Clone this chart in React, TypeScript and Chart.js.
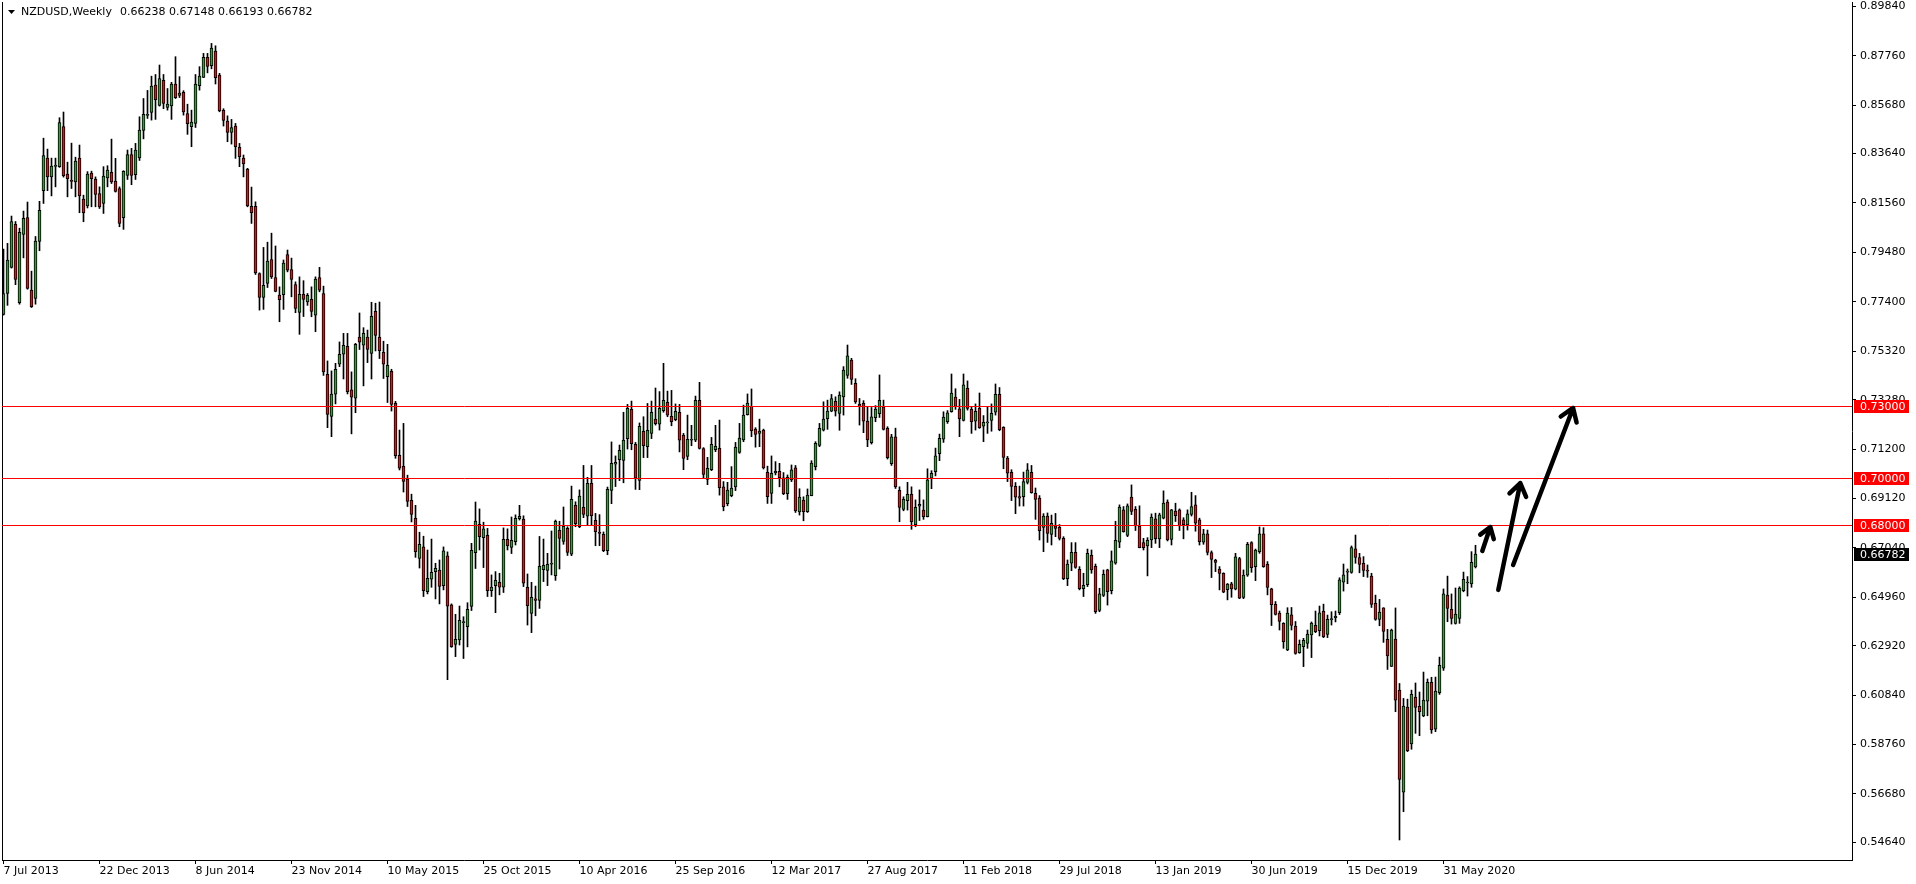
import React, { useEffect, useRef } from 'react';
import { Chart, registerables } from 'chart.js';

Chart.register(...registerables);

// ---- Weekly NZDUSD candles (bar index 0 = week of 7 Jul 2013) ----
const opens = [
  0.7687,0.7775,0.7885,0.8066,0.7736,0.8024,0.8095,0.7789,0.7754,0.7994,
  0.8208,0.8345,0.8266,0.8310,0.8309,0.8478,0.8278,0.8250,0.8245,0.8345,
  0.8172,0.8144,0.8282,0.8257,0.8196,0.8154,0.8262,0.8285,0.8248,0.8217,
  0.8094,0.8272,0.8360,0.8275,0.8346,0.8462,0.8525,0.8537,0.8652,0.8567,
  0.8673,0.8558,0.8565,0.8657,0.8609,0.8622,0.8533,0.8477,0.8491,0.8650,
  0.8685,0.8769,0.8734,0.8796,0.8695,0.8546,0.8501,0.8453,0.8480,0.8390,
  0.8345,0.8299,0.8142,0.8142,0.7859,0.7758,0.7817,0.7918,0.7842,0.7768,
  0.7770,0.7939,0.7876,0.7813,0.7695,0.7771,0.7740,0.7750,0.7684,0.7842,
  0.7775,0.7435,0.7257,0.7351,0.7477,0.7520,0.7553,0.7369,0.7334,0.7591,
  0.7557,0.7591,0.7523,0.7700,0.7591,0.7527,0.7425,0.7447,0.7313,0.7094,
  0.7047,0.6994,0.6904,0.6828,0.6659,0.6708,0.6520,0.6572,0.6604,0.6610,
  0.6545,0.6670,0.6464,0.6297,0.6316,0.6389,0.6372,0.6457,0.6684,0.6803,
  0.6747,0.6757,0.6524,0.6545,0.6559,0.6538,0.6740,0.6706,0.6730,0.6827,
  0.6825,0.6538,0.6428,0.6489,0.6483,0.6612,0.6609,0.6635,0.6587,0.6778,
  0.6731,0.6786,0.6677,0.6883,0.6793,0.6875,0.6837,0.6976,0.6820,0.6768,
  0.6761,0.6692,0.6946,0.7056,0.7075,0.7072,0.7164,0.7287,0.7140,0.6988,
  0.7195,0.7130,0.7186,0.7246,0.7225,0.7282,0.7317,0.7258,0.7244,0.7275,
  0.7178,0.7089,0.7157,0.7157,0.7325,0.7122,0.6992,0.7033,0.7117,0.7123,
  0.6961,0.6890,0.6924,0.6961,0.7106,0.7158,0.7265,0.7300,0.7204,0.7186,
  0.7200,0.7022,0.6933,0.7021,0.7026,0.6999,0.6932,0.6990,0.7041,0.6855,
  0.6905,0.6856,0.6924,0.7046,0.7135,0.7200,0.7248,0.7280,0.7321,0.7270,
  0.7340,0.7430,0.7495,0.7397,0.7308,0.7312,0.7238,0.7147,0.7252,0.7269,
  0.7298,0.7207,0.7058,0.7171,0.6946,0.6866,0.6903,0.6929,0.6802,0.6880,
  0.6863,0.6835,0.6997,0.7025,0.7101,0.7162,0.7235,0.7277,0.7339,0.7289,
  0.7241,0.7376,0.7287,0.7237,0.7291,0.7216,0.7230,0.7241,0.7275,0.7350,
  0.7211,0.7082,0.7022,0.6963,0.6920,0.6920,0.6979,0.7022,0.6934,0.6914,
  0.6790,0.6838,0.6761,0.6797,0.6790,0.6744,0.6574,0.6639,0.6685,0.6614,
  0.6532,0.6549,0.6673,0.6626,0.6441,0.6504,0.6611,0.6524,0.6639,0.6728,
  0.6864,0.6756,0.6918,0.6866,0.6796,0.6726,0.6712,0.6737,0.6826,0.6742,
  0.6829,0.6897,0.6740,0.6859,0.6864,0.6822,0.6801,0.6845,0.6885,0.6822,
  0.6728,0.6763,0.6684,0.6653,0.6615,0.6597,0.6528,0.6552,0.6530,0.6659,
  0.6495,0.6589,0.6726,0.6625,0.6688,0.6763,0.6635,0.6531,0.6466,0.6429,
  0.6386,0.6274,0.6422,0.6375,0.6263,0.6288,0.6302,0.6337,0.6378,0.6355,
  0.6437,0.6340,0.6402,0.6410,0.6431,0.6559,0.6602,0.6601,0.6700,0.6663,
  0.6639,0.6609,0.6585,0.6470,0.6403,0.6451,0.6319,0.6205,0.6320,0.6105,
  0.5675,0.6034,0.5878,0.6076,0.6037,0.5996,0.6058,0.6138,0.5941,0.6094,
  0.6197,0.6505,0.6445,0.6386,0.6407,0.6524,0.6556,0.6552,0.66238,
];

const highs = [
  0.7962,0.7986,0.8101,0.8078,0.8050,0.8122,0.8160,0.7869,0.8015,0.8163,
  0.8429,0.8383,0.8345,0.8345,0.8515,0.8539,0.8328,0.8408,0.8349,0.8400,
  0.8189,0.8288,0.8290,0.8266,0.8224,0.8309,0.8313,0.8425,0.8344,0.8224,
  0.8292,0.8379,0.8386,0.8407,0.8519,0.8596,0.8630,0.8690,0.8697,0.8737,
  0.8697,0.8638,0.8664,0.8772,0.8688,0.8629,0.8572,0.8547,0.8697,0.8730,
  0.8786,0.8786,0.8828,0.8818,0.8702,0.8553,0.8523,0.8508,0.8491,0.8407,
  0.8358,0.8302,0.8223,0.8161,0.7862,0.7969,0.7991,0.8029,0.7975,0.7803,
  0.7916,0.7958,0.7924,0.7824,0.7845,0.7829,0.7775,0.7803,0.7845,0.7885,
  0.7806,0.7491,0.7449,0.7481,0.7571,0.7607,0.7607,0.7445,0.7565,0.7693,
  0.7631,0.7621,0.7738,0.7734,0.7739,0.7574,0.7561,0.7456,0.7321,0.7200,
  0.7228,0.7010,0.6930,0.6883,0.6770,0.6753,0.6695,0.6741,0.6639,0.6653,
  0.6708,0.6687,0.6468,0.6424,0.6459,0.6414,0.6473,0.6723,0.6897,0.6868,
  0.6812,0.6786,0.6590,0.6604,0.6597,0.6788,0.6784,0.6834,0.6843,0.6883,
  0.6839,0.6594,0.6559,0.6543,0.6752,0.6741,0.6681,0.6775,0.6821,0.6816,
  0.6876,0.6793,0.6964,0.6898,0.6948,0.7051,0.7001,0.7051,0.6849,0.6844,
  0.6771,0.6960,0.7150,0.7091,0.7137,0.7275,0.7308,0.7322,0.7148,0.7230,
  0.7256,0.7312,0.7322,0.7377,0.7362,0.7481,0.7364,0.7367,0.7310,0.7308,
  0.7186,0.7263,0.7220,0.7343,0.7401,0.7126,0.7085,0.7169,0.7220,0.7242,
  0.6983,0.6980,0.7046,0.7148,0.7228,0.7305,0.7352,0.7373,0.7210,0.7246,
  0.7204,0.7048,0.7091,0.7067,0.7060,0.7021,0.7011,0.7053,0.7051,0.6953,
  0.6919,0.6952,0.7071,0.7151,0.7228,0.7319,0.7326,0.7350,0.7340,0.7361,
  0.7467,0.7558,0.7502,0.7416,0.7333,0.7324,0.7298,0.7295,0.7303,0.7432,
  0.7326,0.7214,0.7182,0.7208,0.6961,0.6919,0.6980,0.6961,0.6906,0.6948,
  0.6906,0.7037,0.7029,0.7124,0.7183,0.7277,0.7282,0.7436,0.7374,0.7329,
  0.7436,0.7407,0.7298,0.7310,0.7356,0.7261,0.7300,0.7310,0.7394,0.7379,
  0.7214,0.7089,0.7033,0.6979,0.6964,0.7023,0.7059,0.7051,0.6956,0.6924,
  0.6848,0.6851,0.6842,0.6849,0.6802,0.6751,0.6653,0.6726,0.6726,0.6625,
  0.6597,0.6699,0.6695,0.6636,0.6534,0.6611,0.6614,0.6691,0.6816,0.6885,
  0.6878,0.6889,0.6969,0.6878,0.6881,0.6744,0.6747,0.6847,0.6850,0.6850,
  0.6944,0.6906,0.6866,0.6892,0.6868,0.6831,0.6864,0.6938,0.6924,0.6829,
  0.6782,0.6779,0.6691,0.6656,0.6625,0.6599,0.6554,0.6559,0.6681,0.6664,
  0.6611,0.6727,0.6730,0.6699,0.6792,0.6789,0.6646,0.6534,0.6478,0.6438,
  0.6389,0.6452,0.6453,0.6394,0.6316,0.6323,0.6358,0.6392,0.6438,0.6459,
  0.6467,0.6421,0.6435,0.6438,0.6578,0.6636,0.6615,0.6712,0.6758,0.6681,
  0.6667,0.6632,0.6597,0.6505,0.6487,0.6452,0.6361,0.6362,0.6451,0.6133,
  0.6070,0.6067,0.6105,0.6135,0.6097,0.6181,0.6152,0.6159,0.6160,0.6244,
  0.6531,0.6585,0.6510,0.6535,0.6540,0.6602,0.6583,0.6688,0.67148,
];

const lows = [
  0.7684,0.7725,0.7882,0.7812,0.7730,0.7925,0.7793,0.7716,0.7730,0.7955,
  0.8154,0.8208,0.8186,0.8224,0.8306,0.8265,0.8182,0.8217,0.8182,0.8115,
  0.8077,0.8135,0.8140,0.8140,0.8133,0.8112,0.8224,0.8238,0.8202,0.8056,
  0.8045,0.8255,0.8233,0.8255,0.8335,0.8426,0.8512,0.8505,0.8508,0.8564,
  0.8553,0.8547,0.8508,0.8596,0.8600,0.8526,0.8445,0.8393,0.8474,0.8631,
  0.8684,0.8704,0.8721,0.8657,0.8540,0.8480,0.8414,0.8404,0.8344,0.8309,
  0.8266,0.8140,0.8070,0.7855,0.7705,0.7708,0.7800,0.7838,0.7782,0.7656,
  0.7708,0.7866,0.7761,0.7694,0.7603,0.7678,0.7725,0.7677,0.7614,0.7782,
  0.7430,0.7210,0.7172,0.7310,0.7467,0.7415,0.7352,0.7184,0.7273,0.7539,
  0.7386,0.7484,0.7415,0.7533,0.7501,0.7417,0.7316,0.7280,0.7081,0.7032,
  0.6939,0.6878,0.6813,0.6664,0.6619,0.6499,0.6510,0.6538,0.6489,0.6468,
  0.6527,0.6149,0.6285,0.6246,0.6295,0.6238,0.6287,0.6440,0.6617,0.6695,
  0.6621,0.6499,0.6499,0.6431,0.6506,0.6516,0.6695,0.6680,0.6716,0.6821,
  0.6541,0.6379,0.6347,0.6418,0.6449,0.6562,0.6545,0.6590,0.6567,0.6615,
  0.6719,0.6672,0.6671,0.6793,0.6789,0.6831,0.6800,0.6800,0.6713,0.6713,
  0.6688,0.6675,0.6890,0.6962,0.6987,0.6978,0.7120,0.7117,0.6950,0.6949,
  0.7084,0.7084,0.7164,0.7221,0.7200,0.7275,0.7256,0.7218,0.7239,0.7108,
  0.7033,0.7075,0.7134,0.7151,0.7120,0.6999,0.6970,0.7029,0.7109,0.6926,
  0.6860,0.6881,0.6919,0.6945,0.7102,0.7151,0.7263,0.7172,0.7128,0.7130,
  0.7036,0.6891,0.6891,0.7011,0.6961,0.6928,0.6908,0.6983,0.6853,0.6842,
  0.6818,0.6853,0.6923,0.7032,0.7130,0.7196,0.7203,0.7277,0.7259,0.7199,
  0.7263,0.7418,0.7392,0.7312,0.7221,0.7189,0.7130,0.7141,0.7235,0.7253,
  0.7200,0.7078,0.7051,0.6954,0.6814,0.6860,0.6863,0.6782,0.6793,0.6819,
  0.6824,0.6834,0.6953,0.7007,0.7071,0.7148,0.7228,0.7275,0.7287,0.7172,
  0.7238,0.7284,0.7186,0.7200,0.7207,0.7151,0.7186,0.7195,0.7263,0.7197,
  0.7037,0.6983,0.6903,0.6848,0.6880,0.6880,0.6973,0.6934,0.6824,0.6737,
  0.6688,0.6727,0.6716,0.6751,0.6737,0.6570,0.6545,0.6608,0.6618,0.6527,
  0.6499,0.6541,0.6597,0.6428,0.6435,0.6499,0.6463,0.6510,0.6635,0.6705,
  0.6770,0.6751,0.6844,0.6777,0.6704,0.6695,0.6586,0.6705,0.6723,0.6705,
  0.6826,0.6733,0.6716,0.6815,0.6777,0.6742,0.6779,0.6838,0.6774,0.6716,
  0.6719,0.6674,0.6579,0.6604,0.6527,0.6515,0.6485,0.6496,0.6527,0.6490,
  0.6490,0.6584,0.6601,0.6566,0.6681,0.6622,0.6506,0.6377,0.6421,0.6358,
  0.6281,0.6271,0.6358,0.6256,0.6260,0.6204,0.6281,0.6242,0.6347,0.6333,
  0.6326,0.6326,0.6379,0.6392,0.6423,0.6522,0.6553,0.6597,0.6639,0.6599,
  0.6583,0.6580,0.6453,0.6399,0.6376,0.6306,0.6192,0.6204,0.6014,0.5474,
  0.5593,0.5846,0.5856,0.5923,0.5913,0.5993,0.5997,0.5923,0.5930,0.6087,
  0.6188,0.6393,0.6383,0.6383,0.6386,0.6519,0.6501,0.6538,0.66193,
];

const closes = [
  0.7775,0.7916,0.8078,0.7834,0.8033,0.8091,0.7796,0.7719,0.7996,0.8125,
  0.8356,0.8266,0.8311,0.8314,0.8495,0.8271,0.8258,0.8247,0.8332,0.8186,
  0.8115,0.8278,0.8258,0.8192,0.8140,0.8269,0.8295,0.8245,0.8205,0.8070,
  0.8289,0.8360,0.8272,0.8379,0.8463,0.8529,0.8526,0.8648,0.8591,0.8680,
  0.8575,0.8572,0.8657,0.8599,0.8619,0.8540,0.8490,0.8497,0.8657,0.8690,
  0.8769,0.8731,0.8808,0.8684,0.8544,0.8504,0.8453,0.8474,0.8393,0.8351,
  0.8321,0.8144,0.8115,0.7862,0.7758,0.7809,0.7911,0.7845,0.7784,0.7749,
  0.7903,0.7873,0.7834,0.7712,0.7771,0.7750,0.7767,0.7699,0.7836,0.7789,
  0.7445,0.7266,0.7351,0.7456,0.7519,0.7557,0.7362,0.7338,0.7561,0.7570,
  0.7607,0.7540,0.7679,0.7598,0.7534,0.7477,0.7473,0.7308,0.7092,0.7039,
  0.6984,0.6899,0.6845,0.6688,0.6719,0.6524,0.6576,0.6601,0.6618,0.6542,
  0.6691,0.6458,0.6288,0.6319,0.6399,0.6390,0.6445,0.6694,0.6817,0.6751,
  0.6784,0.6524,0.6539,0.6567,0.6538,0.6740,0.6713,0.6736,0.6828,0.6837,
  0.6555,0.6461,0.6496,0.6483,0.6626,0.6630,0.6635,0.6639,0.6816,0.6744,
  0.6795,0.6685,0.6908,0.6806,0.6922,0.6845,0.6976,0.6839,0.6772,0.6765,
  0.6692,0.6950,0.7060,0.7064,0.7115,0.7158,0.7291,0.7143,0.6997,0.7216,
  0.7134,0.7199,0.7275,0.7227,0.7291,0.7325,0.7263,0.7235,0.7279,0.7157,
  0.7081,0.7161,0.7158,0.7325,0.7123,0.7013,0.7039,0.7140,0.7131,0.6957,
  0.6877,0.6947,0.6956,0.7128,0.7166,0.7263,0.7314,0.7197,0.7182,0.7196,
  0.7041,0.6919,0.7018,0.7026,0.6999,0.6932,0.7001,0.7032,0.6860,0.6918,
  0.6856,0.6926,0.7061,0.7144,0.7207,0.7246,0.7280,0.7333,0.7280,0.7347,
  0.7453,0.7512,0.7413,0.7318,0.7300,0.7237,0.7158,0.7256,0.7288,0.7325,
  0.7203,0.7084,0.7171,0.6961,0.6874,0.6908,0.6929,0.6814,0.6875,0.6887,
  0.6835,0.6990,0.7018,0.7091,0.7165,0.7255,0.7273,0.7356,0.7299,0.7248,
  0.7390,0.7291,0.7235,0.7279,0.7210,0.7233,0.7234,0.7270,0.7350,0.7202,
  0.7085,0.7018,0.6963,0.6917,0.6913,0.6983,0.7032,0.6936,0.6908,0.6776,
  0.6838,0.6765,0.6807,0.6786,0.6744,0.6574,0.6636,0.6685,0.6622,0.6532,
  0.6546,0.6681,0.6611,0.6435,0.6510,0.6593,0.6520,0.6649,0.6736,0.6876,
  0.6772,0.6881,0.6857,0.6796,0.6705,0.6705,0.6736,0.6834,0.6743,0.6843,
  0.6893,0.6737,0.6864,0.6840,0.6796,0.6802,0.6847,0.6878,0.6808,0.6730,
  0.6763,0.6685,0.6655,0.6643,0.6596,0.6517,0.6551,0.6531,0.6666,0.6492,
  0.6589,0.6719,0.6621,0.6695,0.6763,0.6625,0.6537,0.6465,0.6424,0.6394,
  0.6309,0.6429,0.6377,0.6260,0.6298,0.6315,0.6341,0.6387,0.6351,0.6430,
  0.6330,0.6403,0.6405,0.6416,0.6569,0.6590,0.6605,0.6705,0.6664,0.6634,
  0.6609,0.6606,0.6466,0.6403,0.6434,0.6352,0.6249,0.6358,0.6063,0.5729,
  0.6038,0.5850,0.6087,0.6032,0.6014,0.6063,0.6138,0.5937,0.6101,0.6209,
  0.6510,0.6449,0.6407,0.6425,0.6535,0.6571,0.6559,0.6643,0.66782,
];

// ---- axes ----
const dateTickBars = [0, 24, 48, 72, 96, 120, 144, 168, 192, 216, 240, 264, 288, 312, 336, 360];
const dateTickLabels = [
  '7 Jul 2013', '22 Dec 2013', '8 Jun 2014', '23 Nov 2014', '10 May 2015', '25 Oct 2015',
  '10 Apr 2016', '25 Sep 2016', '12 Mar 2017', '27 Aug 2017', '11 Feb 2018', '29 Jul 2018',
  '13 Jan 2019', '30 Jun 2019', '15 Dec 2019', '31 May 2020',
];
const priceTicks = [
  0.8984, 0.8776, 0.8568, 0.8364, 0.8156, 0.7948, 0.7740, 0.7532, 0.7328,
  0.7120, 0.6912, 0.6704, 0.6496, 0.6292, 0.6084, 0.5876, 0.5668, 0.5464,
];
const priceMin = 0.53897;
const priceMax = 0.90023;
const barMin = -0.375;
const barMax = 462.125;

// ---- annotations ----
const levelPrices = [0.73, 0.70, 0.68];
const lastPrice = 0.66782;
const symbolTitle = 'NZDUSD,Weekly';
const titleValues = '0.66238 0.67148 0.66193 0.66782';
// arrows: tail and tip as [bar, price]
const arrowTails = [[369.7, 0.6691], [373.7, 0.6527], [377.4, 0.6632]];
const arrowTips = [[371.7, 0.6792], [379.2, 0.6977], [392.4, 0.7293]];

const BULL = '#32a032';
const BEAR = '#e01414';
const LEVEL = '#ff0000';
const FONT = '"DejaVu Sans"';

const overlayPlugin = {
  id: 'mt4Overlay',
  afterDraw(chart: any) {
    const { ctx, chartArea: a, scales } = chart;
    const xs = scales.x;
    const ys = scales.y;
    ctx.save();
    // left frame
    ctx.strokeStyle = '#000';
    ctx.lineWidth = 1;
    ctx.beginPath();
    ctx.moveTo(a.left + 0.5, a.top);
    ctx.lineTo(a.left + 0.5, a.bottom);
    ctx.stroke();
    // horizontal levels
    levelPrices.forEach((v) => {
      const y = Math.round(ys.getPixelForValue(v)) + 0.5;
      ctx.strokeStyle = LEVEL;
      ctx.beginPath();
      ctx.moveTo(a.left, y);
      ctx.lineTo(a.right, y);
      ctx.stroke();
    });
    const tag = (v: number, bg: string) => {
      const y = Math.round(ys.getPixelForValue(v));
      ctx.fillStyle = bg;
      ctx.fillRect(a.right + 2, y - 6, 55, 13);
      ctx.fillStyle = '#fff';
      ctx.font = `11px ${FONT}`;
      ctx.textAlign = 'left';
      ctx.textBaseline = 'middle';
      ctx.fillText(v.toFixed(5), a.right + 8, y + 1);
    };
    levelPrices.forEach((v) => tag(v, LEVEL));
    tag(lastPrice, '#000');
    // header
    ctx.fillStyle = '#000';
    ctx.beginPath();
    ctx.moveTo(8, 10);
    ctx.lineTo(15, 10);
    ctx.lineTo(11.5, 14);
    ctx.closePath();
    ctx.fill();
    ctx.font = `11px ${FONT}`;
    ctx.textAlign = 'left';
    ctx.textBaseline = 'middle';
    ctx.fillText(symbolTitle, 21, 12);
    ctx.fillText(titleValues, 120, 12);
    // arrows
    ctx.strokeStyle = '#000';
    ctx.lineWidth = 4.5;
    ctx.lineCap = 'round';
    ctx.lineJoin = 'round';
    arrowTails.forEach((t, k) => {
      const p = arrowTips[k];
      const x0 = xs.getPixelForValue(t[0]);
      const y0 = ys.getPixelForValue(t[1]);
      const x1 = xs.getPixelForValue(p[0]);
      const y1 = ys.getPixelForValue(p[1]);
      const ang = Math.atan2(y1 - y0, x1 - x0);
      const len = Math.hypot(x1 - x0, y1 - y0);
      const head = Math.min(15, len * 0.5);
      ctx.beginPath();
      ctx.moveTo(x0, y0);
      ctx.lineTo(x1, y1);
      ctx.moveTo(x1 + head * Math.cos(ang + Math.PI - 0.6), y1 + head * Math.sin(ang + Math.PI - 0.6));
      ctx.lineTo(x1, y1);
      ctx.lineTo(x1 + head * Math.cos(ang + Math.PI + 0.6), y1 + head * Math.sin(ang + Math.PI + 0.6));
      ctx.stroke();
    });
    ctx.restore();
  },
};

export default function App() {
  const ref = useRef<HTMLCanvasElement | null>(null);
  useEffect(() => {
    document.body.style.margin = '0';
    const canvas = ref.current;
    if (!canvas) return;
    const idx = opens.map((_, i) => i);
    const bodies = idx.map((i) => ({ x: i, y: [opens[i], closes[i]] }));
    const wicks = idx.map((i) => ({ x: i, y: [lows[i], highs[i]] }));
    const bodyColors = idx.map((i) => (closes[i] > opens[i] ? BULL : closes[i] < opens[i] ? BEAR : '#000'));
    const chart = new Chart(canvas, {
      type: 'bar',
      data: {
        datasets: [
          {
            label: 'body',
            data: bodies as any,
            backgroundColor: bodyColors,
            borderColor: '#000',
            borderWidth: 1,
            borderSkipped: false,
            barThickness: 3,
            minBarLength: 1,
            grouped: false,
            order: 0,
          } as any,
          {
            label: 'wick',
            data: wicks as any,
            backgroundColor: '#000',
            borderWidth: 0,
            barThickness: 1,
            grouped: false,
            order: 1,
          } as any,
        ],
      },
      options: {
        animation: false,
        responsive: false,
        devicePixelRatio: 1,
        layout: { padding: { top: 2, left: 2, right: 0, bottom: 0 } },
        plugins: { legend: { display: false }, tooltip: { enabled: false }, title: { display: false } },
        scales: {
          x: {
            type: 'linear',
            min: barMin,
            max: barMax,
            offset: false,
            afterBuildTicks: (s: any) => {
              s.ticks = dateTickBars.map((v) => ({ value: v }));
            },
            afterFit: (s: any) => {
              s.height = 24;
              s.paddingLeft = 0;
              s.paddingRight = 0;
            },
            ticks: {
              autoSkip: false,
              maxRotation: 0,
              minRotation: 0,
              align: 'start',
              padding: 1,
              color: '#000',
              font: { family: 'DejaVu Sans', size: 11 },
              callback: (v: any) => {
                const k = dateTickBars.indexOf(Number(v));
                return k >= 0 ? dateTickLabels[k] : '';
              },
            },
            grid: { drawOnChartArea: false, drawTicks: true, tickLength: 4, tickColor: '#000', offset: false },
            border: { display: true, color: '#000', width: 1 },
          } as any,
          y: {
            type: 'linear',
            position: 'right',
            min: priceMin,
            max: priceMax,
            beginAtZero: false,
            afterBuildTicks: (s: any) => {
              s.ticks = priceTicks.map((v) => ({ value: v }));
            },
            afterFit: (s: any) => {
              s.width = 64;
              s.paddingTop = 0;
              s.paddingBottom = 0;
            },
            ticks: {
              autoSkip: false,
              padding: 4,
              color: '#000',
              font: { family: 'DejaVu Sans', size: 11 },
              callback: (v: any) => Number(v).toFixed(5),
            },
            grid: { drawOnChartArea: false, drawTicks: true, tickLength: 4, tickColor: '#000' },
            border: { display: true, color: '#000', width: 1 },
          } as any,
        },
      },
      plugins: [overlayPlugin],
    });
    return () => chart.destroy();
  }, []);
  return <canvas ref={ref} width={1916} height={884} style={{ display: 'block' }} />;
}
